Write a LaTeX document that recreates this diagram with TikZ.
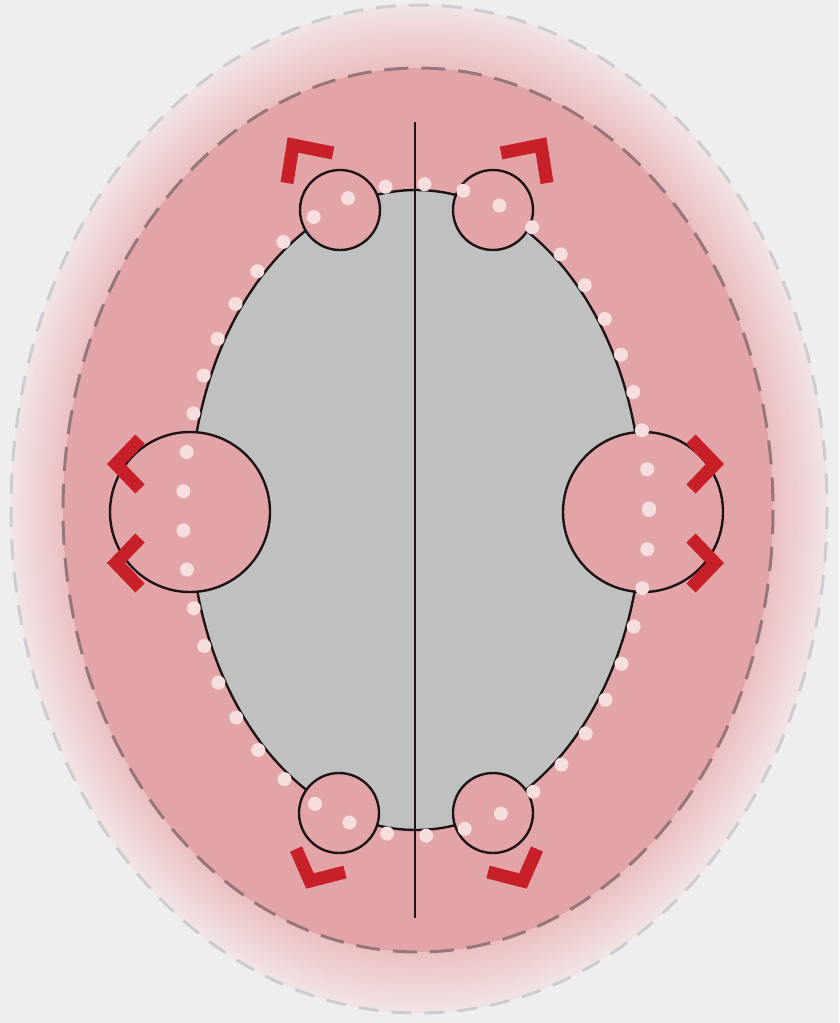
\documentclass[tikz,border=0pt]{standalone}
\usetikzlibrary{decorations.markings}
\definecolor{mist}{RGB}{238,238,238}
\definecolor{blush}{RGB}{243,236,236}
\definecolor{rose}{RGB}{235,192,195}
\definecolor{flesh}{RGB}{227,164,167}
\definecolor{stone}{RGB}{191,193,193}
\definecolor{mauve}{RGB}{150,118,122}
\definecolor{fog}{RGB}{204,204,209}
\definecolor{pearl}{RGB}{246,222,222}
\definecolor{brick}{RGB}{200,32,40}
\definecolor{ink}{RGB}{30,20,22}
\tikzset{
  rim/.style={draw=#1,line width=3pt,dash pattern=on 24pt off 13pt},
  rim/.default=mauve,
  lobe/.style={draw=ink,fill=flesh,line width=2.4pt},
  notch/.style={draw=brick,line width=13pt,line join=miter,line cap=butt},
  pearls/.style={decorate,decoration={markings,
    mark=between positions 0 and 1 step 0.0222 with {\fill[pearl] (0,0) circle (7);}}},
}
\begin{document}
\begin{tikzpicture}[x=1pt,y=-1pt]
  \useasboundingbox[fill=mist] (0,0) rectangle (839,1023);
  % soft halo round the scalp
  \foreach \i in {0,...,14}{
    \pgfmathsetmacro\rx{408-50*\i/14}
    \pgfmathsetmacro\ry{504-58*\i/14}
    \pgfmathsetmacro\p{20+80*\i/14}
    \fill[rose!\p!blush] (419,509) ellipse [x radius=\rx,y radius=\ry];
  }
  \draw[rim=fog,dash pattern=on 20pt off 13pt] (419,509) ellipse [x radius=408,y radius=504];
  \fill[flesh] (418,510) ellipse [x radius=355,y radius=442];
  \draw[rim] (418,510) ellipse [x radius=355,y radius=442];
  % brain outline
  \coordinate (core) at (416,510);
  \filldraw[fill=stone,draw=ink,line width=2.4pt] (core) ellipse [x radius=226,y radius=320];
  \coordinate (tl) at (340,210);
  \coordinate (tr) at (493,210);
  \coordinate (bl) at (339,813);
  \coordinate (br) at (493,813);
  \coordinate (ml) at (190,512);
  \coordinate (mr) at (643,512);
  \foreach \c in {tl,tr,bl,br} \draw[lobe] (\c) circle (40);
  \foreach \c in {ml,mr} \draw[lobe] (\c) circle (80);
  \draw[ink,line width=1.8pt] (415,122) -- (415,918);
  \path[pearls] (core) ellipse [x radius=233,y radius=326];
  % red corner marks
  \draw[notch] (287,183) -- (293,145) -- (333,153);
  \draw[notch] (501,153) -- (541,145) -- (547,183);
  \draw[notch] (296,849) -- (310,881) -- (345,872);
  \draw[notch] (488,872) -- (523,881) -- (537,849);
  \draw[notch] (140,439) -- (116,464) -- (140,489);
  \draw[notch] (140,538) -- (116,563) -- (140,588);
  \draw[notch] (691,439) -- (715,464) -- (691,489);
  \draw[notch] (691,538) -- (715,563) -- (691,588);
\end{tikzpicture}
\end{document}
